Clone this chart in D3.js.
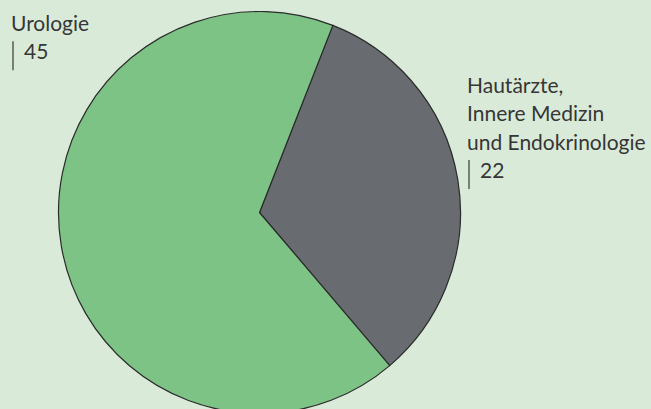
<!DOCTYPE html>
<html>
<head>
<meta charset="utf-8">
<script src="https://cdn.jsdelivr.net/npm/d3@7"></script>
<style>
  body { margin: 0; background: #d9ebd8; }
  svg { display: block; }
  .lbl { font-family: Lato, "Open Sans", sans-serif; font-size: 21px; fill: #363636; }
</style>
</head>
<body>
<div id="chart"></div>
<script>
var svgWidth = 651;
var svgHeight = 409;

// data
var categories = ["Hautärzte,\nInnere Medizin\nund Endokrinologie", "Urologie"];
var values = [22, 45];
var colors = ["#686c70", "#7dc386"];

var cx = 259.5, cy = 212.5, radius = 201;

var svg = d3.select("#chart")
  .append("svg")
  .attr("width", svgWidth)
  .attr("height", svgHeight);

svg.append("rect")
  .attr("width", svgWidth)
  .attr("height", svgHeight)
  .attr("fill", "#d9ebd8");

var pieData = values.map(function(v, i) { return { name: categories[i], value: v, color: colors[i] }; });

var start = 21.4 * Math.PI / 180;
var pie = d3.pie()
  .sort(null)
  .value(function(d) { return d.value; })
  .startAngle(start)
  .endAngle(start + 2 * Math.PI);

var arc = d3.arc().innerRadius(0).outerRadius(radius);

var g = svg.append("g").attr("transform", "translate(" + cx + "," + cy + ")");

g.selectAll("path")
  .data(pie(pieData))
  .enter().append("path")
  .attr("d", arc)
  .attr("fill", function(d) { return d.data.color; })
  .attr("stroke", "#2b2b2b")
  .attr("stroke-width", 1.2)
  .attr("stroke-linejoin", "round");

// labels
var labelPos = [
  { x: 467, y: 93 },  // Hautärzte
  { x: 11, y: 31 }    // Urologie
];
var lineH = 28.3;

pieData.forEach(function(d, i) {
  var lines = d.name.split("\n");
  var t = svg.append("text")
    .attr("class", "lbl")
    .attr("x", labelPos[i].x)
    .attr("y", labelPos[i].y);
  lines.forEach(function(l, j) {
    t.append("tspan")
      .attr("x", labelPos[i].x)
      .attr("y", labelPos[i].y + j * lineH)
      .text(l);
  });
  var vy = labelPos[i].y + lines.length * lineH;
  // the thin bar before the value
  svg.append("line")
    .attr("x1", labelPos[i].x + 2)
    .attr("x2", labelPos[i].x + 2)
    .attr("y1", vy - 18)
    .attr("y2", vy + 11)
    .attr("stroke", "#363636")
    .attr("stroke-width", 1.2);
  svg.append("text")
    .attr("class", "lbl")
    .attr("x", labelPos[i].x + 13)
    .attr("y", vy)
    .text(d.value);
});
</script>
</body>
</html>
